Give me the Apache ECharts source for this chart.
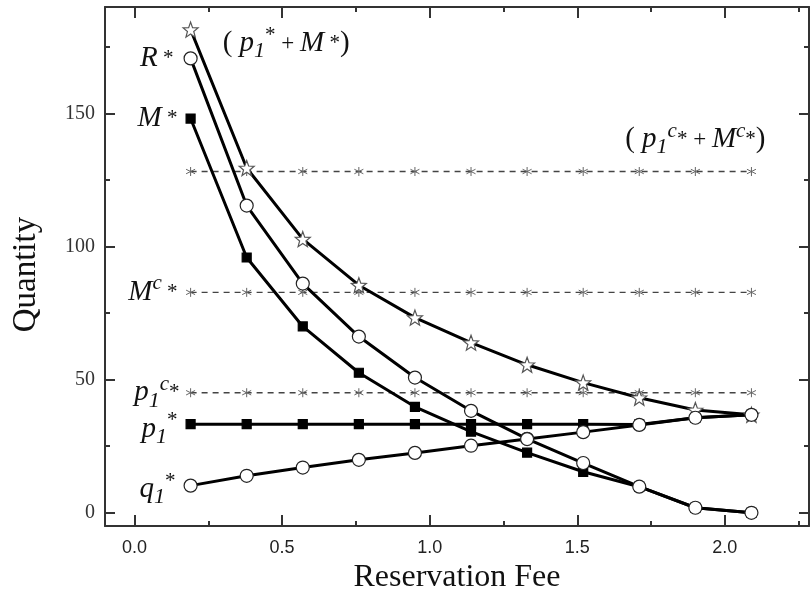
<!DOCTYPE html>
<html>
<head>
<meta charset="utf-8">
<script src="https://cdn.jsdelivr.net/npm/echarts@6/dist/echarts.min.js"></script>
<style>
  html, body { margin: 0; padding: 0; background: #fff; }
  #chart { width: 810px; height: 599px; }
</style>
</head>
<body>
<div id="chart"></div>
<script>
// reservation fee (x)
var fee = [0.19, 0.38, 0.57, 0.76, 0.95, 1.14, 1.33, 1.52, 1.71, 1.90, 2.09];
// solid curves
var p1PlusM = [181.5, 129.5, 102.8, 85.5, 73.3, 63.9, 55.6, 48.9, 43.2, 38.6, 36.8];
var rStar = [170.7, 115.4, 86.1, 66.2, 50.8, 38.3, 27.8, 18.7, 9.8, 1.9, 0];
var mStar = [148.1, 95.9, 70.0, 52.6, 39.8, 30.5, 22.6, 15.4, 9.8, 1.9, 0];
var p1Star = [33.3, 33.3, 33.3, 33.3, 33.3, 33.3, 33.3, 33.3, 33.2, 35.7, 36.8];
var q1Star = [10.2, 13.9, 17.0, 19.9, 22.5, 25.2, 27.7, 30.3, 33.0, 35.7, 36.8];
// dashed (centralized) levels
var p1cPlusMc = [128.2, 128.2, 128.2, 128.2, 128.2, 128.2, 128.2, 128.2, 128.2, 128.2, 128.2];
var mcStar = [82.8, 82.8, 82.8, 82.8, 82.8, 82.8, 82.8, 82.8, 82.8, 82.8, 82.8];
var p1cStar = [45.1, 45.1, 45.1, 45.1, 45.1, 45.1, 45.1, 45.1, 45.1, 45.1, 45.1];

var xMajor = [0, 0.5, 1.0, 1.5, 2.0];
var xMinor = [0.25, 0.75, 1.25, 1.75, 2.25];
var yMajor = [0, 50, 100, 150];
var yMinor = [25, 75, 125, 175];

function pairs(ys) {
  return fee.map(function (x, i) { return [x, ys[i]]; });
}

// 5-point star symbol
function starPath() {
  var pts = [];
  for (var k = 0; k < 10; k++) {
    var r = k % 2 === 0 ? 10 : 4.2;
    var a = -Math.PI / 2 + k * Math.PI / 5;
    pts.push((r * Math.cos(a)).toFixed(2) + ',' + (r * Math.sin(a)).toFixed(2));
  }
  return 'path://M' + pts.join('L') + 'Z';
}
var asterisk = 'path://M0,-6L0,6M-5.2,-3L5.2,3M-5.2,3L5.2,-3';

var serif = '"Liberation Serif", "Times New Roman", serif';
var rich = {
  i: { fontFamily: serif, fontStyle: 'italic', fontSize: 29, color: '#111', lineHeight: 38 },
  n: { fontFamily: serif, fontSize: 29, color: '#111', lineHeight: 38 },
  pl: { fontFamily: serif, fontSize: 23, color: '#111', lineHeight: 38 },
  sub: { fontFamily: serif, fontStyle: 'italic', fontSize: 22, color: '#111', lineHeight: 20, verticalAlign: 'bottom' },
  sup: { fontFamily: serif, fontStyle: 'italic', fontSize: 21, color: '#111', lineHeight: 22, verticalAlign: 'top' },
  ast: { fontFamily: serif, fontSize: 21, color: '#111', lineHeight: 30, verticalAlign: 'top' },
  mid: { fontFamily: serif, fontSize: 21, color: '#111', lineHeight: 38 }
};

function firstLabel(text, pos, dist, offset) {
  return {
    show: true,
    position: pos,
    distance: dist,
    offset: offset || [0, 0],
    rich: rich,
    formatter: function (p) { return p.dataIndex === 0 ? text : ''; }
  };
}

function solid(name, ys, symbol, size, fill, border, label) {
  return {
    name: name,
    type: 'line',
    data: pairs(ys),
    symbol: symbol,
    symbolSize: size,
    showAllSymbol: true,
    lineStyle: { color: '#000', width: 3 },
    itemStyle: { color: fill, borderColor: border, borderWidth: 1.2, opacity: 1 },
    label: label,
    z: 3
  };
}

function dashed(name, ys, label) {
  return {
    name: name,
    type: 'line',
    data: pairs(ys),
    symbol: asterisk,
    symbolSize: 9,
    showAllSymbol: true,
    lineStyle: { color: '#444', width: 1.3, type: [6, 5] },
    itemStyle: { color: '#666', borderColor: '#666', borderWidth: 1 },
    label: label,
    z: 2
  };
}

function tickAxis(pos, values, len, showLine) {
  return {
    type: 'value',
    position: pos,
    axisLine: { show: showLine, onZero: false, lineStyle: { color: '#333', width: 2 } },
    axisTick: { show: true, inside: true, length: len, customValues: values, lineStyle: { color: '#333', width: 2 } },
    axisLabel: { show: false },
    splitLine: { show: false }
  };
}

var chart = echarts.init(document.getElementById('chart'));

var xMain = {
  type: 'value',
  min: -0.1,
  max: 2.285,
  position: 'bottom',
  name: 'Reservation Fee',
  nameLocation: 'middle',
  nameGap: 34,
  nameTextStyle: { fontFamily: serif, fontSize: 32, color: '#111' },
  axisLine: { onZero: false, lineStyle: { color: '#333', width: 2 } },
  axisTick: { inside: true, length: 11, customValues: xMajor, lineStyle: { color: '#333', width: 2 } },
  axisLabel: {
    customValues: xMajor,
    margin: 13,
    fontFamily: '"Liberation Sans", Arial, sans-serif',
    fontSize: 18,
    color: '#222',
    formatter: function (v) { return v.toFixed(1); }
  },
  splitLine: { show: false }
};
var yMain = {
  type: 'value',
  min: -5,
  max: 190,
  position: 'left',
  name: 'Quantity',
  nameLocation: 'middle',
  nameGap: 62,
  nameTextStyle: { fontFamily: serif, fontSize: 33, color: '#111', padding: [0, 16, 0, 0] },
  axisLine: { onZero: false, lineStyle: { color: '#333', width: 2 } },
  axisTick: { inside: true, length: 10, customValues: yMajor, lineStyle: { color: '#333', width: 2 } },
  axisLabel: {
    customValues: yMajor,
    margin: 10,
    fontFamily: serif,
    fontSize: 20,
    color: '#333'
  },
  splitLine: { show: false }
};

function withRange(ax, src) {
  ax.min = src.min;
  ax.max = src.max;
  return ax;
}

chart.setOption({
  animation: false,
  backgroundColor: '#fff',
  grid: { left: 105, right: 1, top: 7, bottom: 71 },
  xAxis: [
    xMain,
    withRange(tickAxis('bottom', xMinor, 5, false), xMain),
    withRange(tickAxis('top', xMajor, 11, true), xMain),
    withRange(tickAxis('top', xMinor, 5, false), xMain)
  ],
  yAxis: [
    yMain,
    withRange(tickAxis('left', yMinor, 5, false), yMain),
    withRange(tickAxis('right', yMajor, 10, true), yMain),
    withRange(tickAxis('right', yMinor, 5, false), yMain)
  ],
  series: [
    dashed('p1c*+Mc*', p1cPlusMc, {
      show: true, position: 'top', distance: 8, rich: rich,
      formatter: function (p) {
        return p.dataIndex === 9 ? '{n|(}{i| p}{sub|1}{sup|c}{mid|*}{pl| + }{i|M}{sup|c}{mid|*}{n|)}' : '';
      }
    }),
    dashed('Mc*', mcStar, firstLabel('{i|M}{sup|c}{mid| *}', 'left', 8)),
    dashed('p1c*', p1cStar, firstLabel('{i|p}{sub|1}{sup|c}{mid|*}', 'left', 6)),
    solid('p1*+M*', p1PlusM, starPath(), 15, '#fff', '#555',
      firstLabel('{n|(}{i| p}{sub|1}{ast|*}{pl| + }{i|M}{mid| *}{n|)}', 'right', 24, [0, 14])),
    solid('M*', mStar, 'rect', 9, '#000', '#000', firstLabel('{i|M}{mid| *}', 'left', 8)),
    solid('p1*', p1Star, 'rect', 9, '#000', '#000', firstLabel('{i|p}{sub|1}{ast|*}', 'left', 8, [0, 5])),
    solid('R*', rStar, 'circle', 13, '#fff', '#222', firstLabel('{i|R}{mid| *}', 'left', 10)),
    solid('q1*', q1Star, 'circle', 13, '#fff', '#222', firstLabel('{i|q}{sub|1}{ast|*}', 'left', 8, [0, 4]))
  ]
});

window.addEventListener('resize', function () {
  chart.resize();
});
</script>
</body>
</html>
